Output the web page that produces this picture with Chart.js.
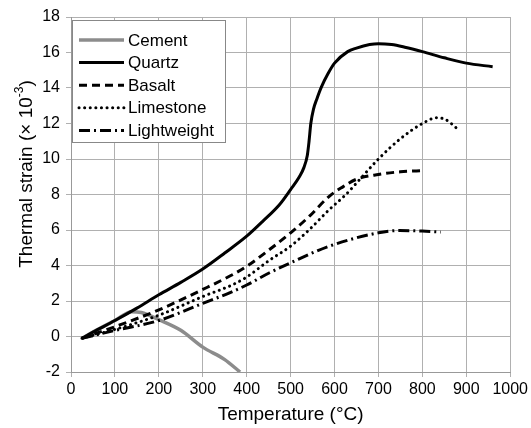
<!DOCTYPE html>
<html>
<head>
<meta charset="utf-8">
<script src="https://cdn.jsdelivr.net/npm/chart.js@4"></script>
<style>body{margin:0;background:#fff}</style>
</head>
<body>
<canvas id="strainChart" width="531" height="428"></canvas>
<script>
// temperature (°C) / thermal strain (x 10^-3) pairs
const cementTemp = [25, 50, 100, 138, 160, 200, 250, 300, 350, 385];
const cementStrain = [-0.1, 0.25, 0.9, 1.4, 1.35, 0.95, 0.35, -0.6, -1.3, -2.0];

const quartzTemp = [25, 50, 100, 150, 200, 250, 300, 350, 400, 437, 475, 500, 520, 530, 538, 542, 546, 552, 560, 570, 585, 600, 630, 650, 680, 700, 730, 760, 800, 850, 900, 960];
const quartzStrain = [-0.1, 0.25, 0.9, 1.6, 2.35, 3.05, 3.8, 4.7, 5.65, 6.5, 7.44, 8.28, 9.0, 9.5, 10.2, 11.0, 12.0, 12.8, 13.4, 14.05, 14.8, 15.4, 16.05, 16.25, 16.45, 16.5, 16.45, 16.3, 16.05, 15.7, 15.4, 15.2];

const basaltTemp = [25, 100, 200, 300, 369, 400, 452, 500, 543, 588, 619, 649, 700, 750, 805];
const basaltStrain = [-0.1, 0.55, 1.5, 2.65, 3.5, 3.95, 4.9, 5.84, 6.78, 7.9, 8.43, 8.85, 9.13, 9.28, 9.35];

const limestoneTemp = [25, 100, 200, 300, 369, 400, 452, 500, 543, 588, 626, 664, 700, 748, 800, 832, 853, 880];
const limestoneStrain = [-0.1, 0.4, 1.2, 2.25, 2.93, 3.35, 4.3, 5.09, 6.03, 7.15, 8.0, 9.03, 10.0, 11.1, 12.0, 12.32, 12.22, 11.7];

const lightTemp = [25, 100, 200, 300, 361, 400, 452, 500, 588, 700, 748, 800, 842];
const lightStrain = [-0.1, 0.34, 0.9, 1.87, 2.46, 2.9, 3.59, 4.15, 5.09, 5.84, 5.97, 5.94, 5.88];

const xTicks = [0, 100, 200, 300, 400, 500, 600, 700, 800, 900, 1000];
const yTicks = [-2, 0, 2, 4, 6, 8, 10, 12, 14, 16, 18];

const FONT = '"Liberation Sans", Arial, sans-serif';
Chart.defaults.font.family = FONT;
Chart.defaults.color = '#000';

function pts(xs, ys) {
    return xs.map((x, i) => ({ x: x, y: ys[i] }));
}

// legend box drawn inside the plot, top left
const legendBox = {
    id: 'legendBox',
    afterDatasetsDraw(chart) {
        const ctx = chart.ctx;
        ctx.save();
        ctx.fillStyle = '#fff';
        ctx.fillRect(72.5, 20.5, 153, 122);
        ctx.strokeStyle = '#888';
        ctx.lineWidth = 1;
        ctx.strokeRect(72.5, 20.5, 153, 122);
        ctx.font = '17px ' + FONT;
        ctx.textBaseline = 'middle';
        chart.data.datasets.forEach((ds, i) => {
            const y = 40 + i * 22.6;
            ctx.beginPath();
            ctx.strokeStyle = ds.borderColor;
            ctx.lineWidth = ds.borderWidth;
            ctx.lineCap = ds.borderCapStyle || 'butt';
            ctx.setLineDash(ds.borderDash || []);
            ctx.moveTo(79, y);
            ctx.lineTo(124, y);
            ctx.stroke();
            ctx.setLineDash([]);
            ctx.fillStyle = '#000';
            ctx.fillText(ds.label, 128, y + 1);
        });
        ctx.restore();
    }
};

// y axis title with a superscript exponent
const yTitle = {
    id: 'yTitle',
    afterDraw(chart) {
        const ctx = chart.ctx;
        const parts = [['Thermal strain (\u00d7 10', 19, 0], ['-3', 12, -7], [')', 19, 0]];
        ctx.save();
        ctx.translate(27, 174);
        ctx.rotate(-Math.PI / 2);
        ctx.textBaseline = 'middle';
        ctx.fillStyle = '#000';
        let total = 0;
        parts.forEach(p => { ctx.font = p[1] + 'px ' + FONT; total += ctx.measureText(p[0]).width; });
        let x = -total / 2;
        parts.forEach(p => {
            ctx.font = p[1] + 'px ' + FONT;
            ctx.fillText(p[0], x, p[2]);
            x += ctx.measureText(p[0]).width;
        });
        ctx.restore();
    }
};

const ctx = document.getElementById('strainChart').getContext('2d');
const strainChart = new Chart(ctx, {
    type: 'line',
    data: {
        datasets: [
            { label: 'Cement', data: pts(cementTemp, cementStrain), borderColor: '#8c8c8c', borderWidth: 3.5, order: 10 },
            { label: 'Quartz', data: pts(quartzTemp, quartzStrain), borderColor: '#000', borderWidth: 3 },
            { label: 'Basalt', data: pts(basaltTemp, basaltStrain), borderColor: '#000', borderWidth: 3, borderDash: [8, 5] },
            { label: 'Limestone', data: pts(limestoneTemp, limestoneStrain), borderColor: '#000', borderWidth: 3, borderDash: [0.1, 5.5], borderCapStyle: 'round' },
            { label: 'Lightweight', data: pts(lightTemp, lightStrain), borderColor: '#000', borderWidth: 3, borderDash: [11, 4, 2, 4] }
        ]
    },
    options: {
        responsive: false,
        animation: false,
        devicePixelRatio: 1,
        layout: { padding: { top: 17, right: 20, left: 0, bottom: 0 } },
        elements: {
            point: { radius: 0 },
            line: { cubicInterpolationMode: 'monotone', fill: false }
        },
        plugins: { legend: { display: false }, tooltip: { enabled: false } },
        scales: {
            x: {
                type: 'linear',
                min: 0,
                max: 1000,
                afterBuildTicks: (s) => { s.ticks = xTicks.map(v => ({ value: v })); },
                afterFit: (s) => { s.height = 56; },
                grid: { color: '#b0b0b0', tickLength: 5 },
                border: { color: '#999' },
                ticks: { font: { size: 16 }, padding: 3, maxRotation: 0, callback: (v) => String(v) },
                title: { display: true, text: 'Temperature (\u00b0C)', font: { size: 19 }, padding: { top: 0, bottom: 2 } }
            },
            y: {
                min: -2,
                max: 18,
                afterBuildTicks: (s) => { s.ticks = yTicks.map(v => ({ value: v })); },
                afterFit: (s) => { s.width = 71; },
                grid: { color: '#b0b0b0', tickLength: 5 },
                border: { color: '#999' },
                ticks: { font: { size: 16 }, padding: 6, callback: (v) => String(v) }
            }
        }
    },
    plugins: [legendBox, yTitle]
});
</script>
</body>
</html>
